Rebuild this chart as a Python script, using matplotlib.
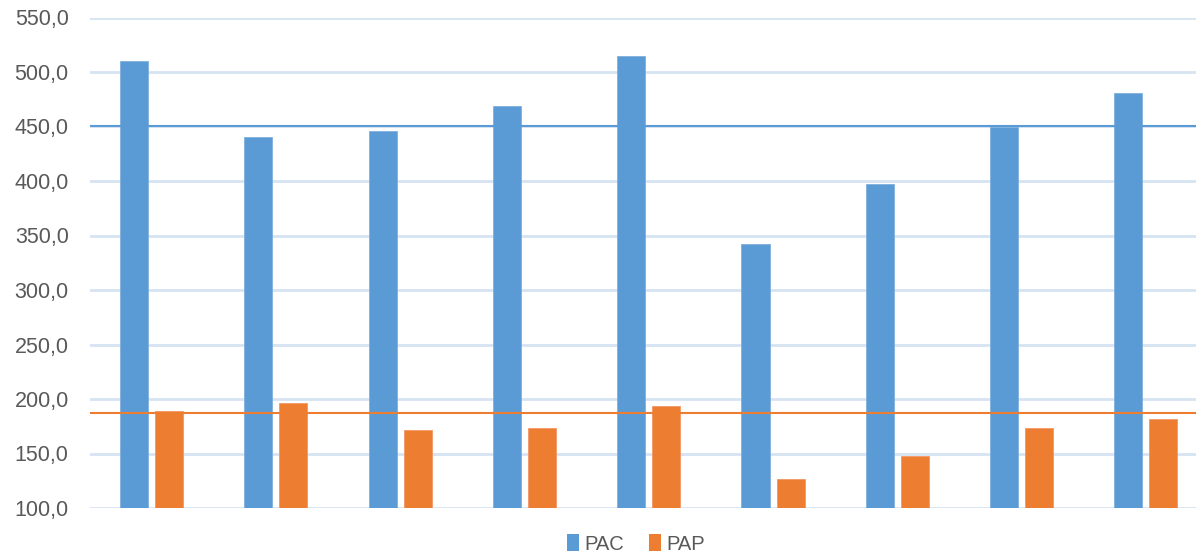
import matplotlib
matplotlib.use("Agg")
import matplotlib.pyplot as plt
from matplotlib.patches import Patch
import numpy as np

categories = ["1", "2", "3", "4", "5", "6", "7", "8", "9"]
pac = [510.5, 440.0, 445.8, 468.8, 514.7, 342.4, 397.6, 449.8, 480.5]
pap = [188.9, 196.6, 171.4, 173.5, 193.2, 126.5, 147.7, 173.2, 181.5]
ref_pac = 450.0
ref_pap = 186.8
yticks = [100, 150, 200, 250, 300, 350, 400, 450, 500, 550]

BLUE = "#5B9BD5"
ORANGE = "#ED7D31"
GRID = "#D6E4F2"
TEXT = "#595959"

W, H = 1196, 559
fig = plt.figure(figsize=(W / 100, H / 100), dpi=100)
left_px, right_px = 89.5, 1196
bottom_px, top_px = 508, 17.5
ax = fig.add_axes([left_px / W, (H - bottom_px) / H, (right_px - left_px) / W, (bottom_px - top_px) / H])

x = np.arange(len(categories))
bw = 0.226
off = 0.141
ax.bar(x - off, pac, bw, bottom=0, color=BLUE, edgecolor="#7FB0DE", linewidth=0.6, zorder=3)
ax.bar(x + off, pap, bw, bottom=0, color=ORANGE, edgecolor="#F29766", linewidth=0.6, zorder=3)

ax.axhline(ref_pac, color=BLUE, linewidth=1.5, zorder=4)
ax.axhline(ref_pap, color=ORANGE, linewidth=1.5, zorder=4)

ax.set_ylim(100, 550)
ax.set_xlim(-0.5, 8.5 - (1208 - 1196) / 124.3)
ax.set_yticks(yticks)
ax.set_yticklabels([f"{v:.1f}".replace(".", ",") for v in yticks])
ax.set_xticks([])
ax.grid(axis="y", color=GRID, linewidth=2, zorder=0)
ax.set_axisbelow(True)
for s in ax.spines.values():
    s.set_visible(False)
ax.tick_params(axis="y", length=0, pad=15, labelsize=15.5, labelcolor=TEXT)
for lbl in ax.get_yticklabels():
    lbl.set_fontfamily("Liberation Sans")

handles = [Patch(facecolor=BLUE, label="PAC"), Patch(facecolor=ORANGE, label="PAP")]
fig.legend(handles=handles, loc="center", bbox_to_anchor=(636 / W, (H - 544) / H), ncol=2,
           frameon=False, prop={"family": "Liberation Sans", "size": 14.5}, labelcolor=TEXT,
           handlelength=0.6, handleheight=0.9, handletextpad=0.3, columnspacing=1.2)

fig.savefig("out.png", dpi=100, facecolor="white")
